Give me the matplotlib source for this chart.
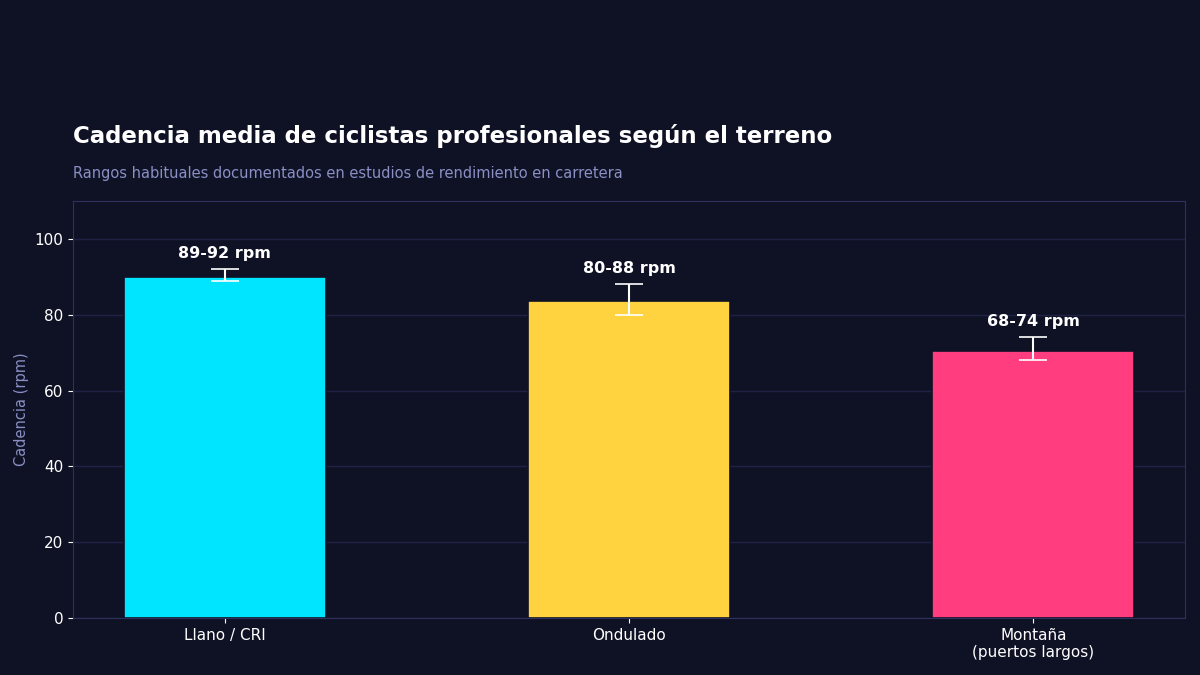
import matplotlib
matplotlib.use('Agg')
import matplotlib.pyplot as plt

terrenos = ['Llano / CRI', 'Ondulado', 'Montaña\n(puertos largos)']
cadencia = [90, 83.5, 70.5]
rango_min = [89, 80, 68]
rango_max = [92, 88, 74]
etiquetas = ['89-92 rpm', '80-88 rpm', '68-74 rpm']
colores = ['#00e5ff', '#ffd23f', '#ff3d7f']

BG = '#0f1225'
GRID = '#1f2244'
SPINE = '#2e3160'
MUTED = '#8a8fc4'

fig = plt.figure(figsize=(12, 6.75), dpi=100, facecolor=BG)
ax = fig.add_axes([0.0608, 0.0844, 0.9267, 0.6178])
ax.set_facecolor(BG)

x = list(range(len(terrenos)))
err_lo = [c - lo for c, lo in zip(cadencia, rango_min)]
err_hi = [hi - c for c, hi in zip(cadencia, rango_max)]

ax.bar(x, cadencia, width=0.5, color=colores, edgecolor=BG, linewidth=1.2, zorder=2)
ax.errorbar(x, cadencia, yerr=[err_lo, err_hi], fmt='none', ecolor='white',
            elinewidth=1.5, capsize=10, capthick=1.2, zorder=3)

for xi, hi, lab in zip(x, rango_max, etiquetas):
    ax.text(xi, hi + 2.2, lab, ha='center', va='bottom', color='white',
            fontsize=11.5, fontweight='bold')

ax.set_ylim(0, 110)
ax.set_yticks([0, 20, 40, 60, 80, 100])
ax.set_xticks(x)
ax.set_xticklabels(terrenos)
ax.tick_params(colors='white', labelsize=11)
ax.set_axisbelow(True)
ax.grid(axis='y', color=GRID, linewidth=1)
for s in ax.spines.values():
    s.set_color(SPINE)
ax.set_ylabel('Cadencia (rpm)', color=MUTED, fontsize=10.5)

fig.text(0.0608, 0.799, 'Cadencia media de ciclistas profesionales según el terreno',
         color='white', fontsize=16.5, fontweight='bold', va='center', ha='left')
fig.text(0.0608, 0.743, 'Rangos habituales documentados en estudios de rendimiento en carretera',
         color=MUTED, fontsize=10.5, va='center', ha='left')

fig.savefig('out.png', facecolor=BG)
